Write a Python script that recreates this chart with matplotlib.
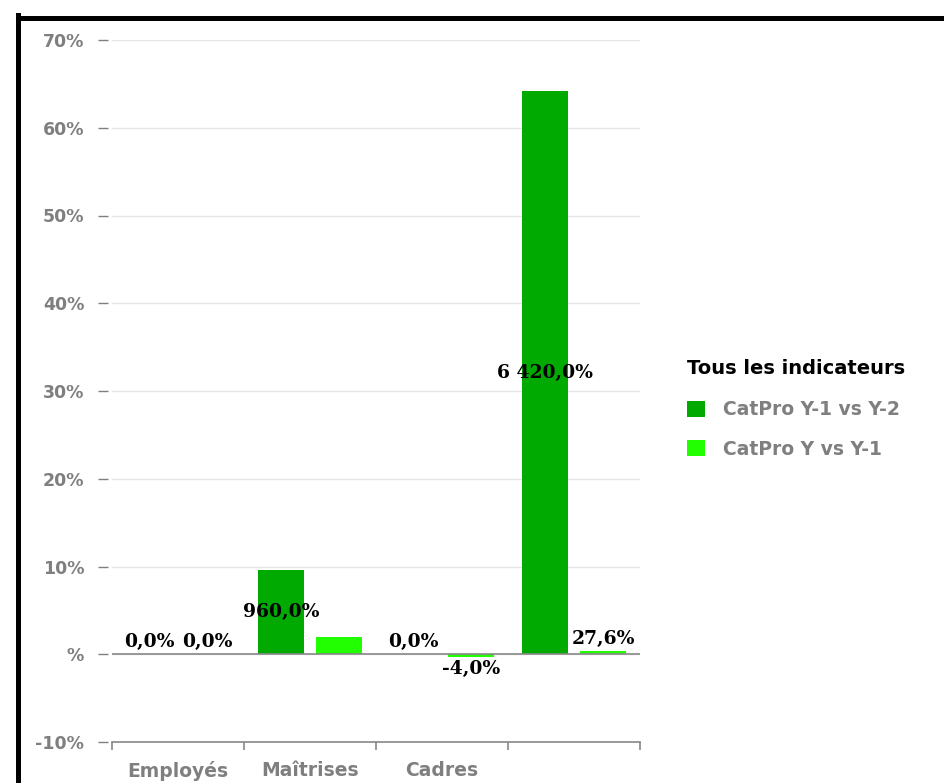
import matplotlib.pyplot as plt
import numpy as np
from matplotlib.lines import Line2D

# Data (bar heights in %, labels as shown on the chart)
categories = ["Employés", "Maîtrises", "Cadres", ""]
series_names = ["CatPro Y-1 vs Y-2", "CatPro Y vs Y-1"]
y1_vs_y2 = [0.0, 9.6, 0.0, 64.2]
y_vs_y1 = [0.0, 2.0, -0.3, 0.35]
labels_y1_vs_y2 = ["0,0%", "960,0%", "0,0%", "6 420,0%"]
labels_y_vs_y1 = ["0,0%", "", "-4,0%", "27,6%"]
ytick_values = [-10, 0, 10, 20, 30, 40, 50, 60, 70]
ytick_labels = ["-10%", "%", "10%", "20%", "30%", "40%", "50%", "60%", "70%"]

colors = ["#00AA00", "#22FF00"]
gray = "#7f7f7f"

fig = plt.figure(figsize=(9.44, 7.83), dpi=100)
ax = fig.add_axes([112 / 944, 41 / 783, 528 / 944, 702 / 783])

x = np.arange(len(categories))
w = 0.355
off = 0.22
b1 = ax.bar(x - off, y1_vs_y2, w, color=colors[0], label=series_names[0], zorder=3)
b2 = ax.bar(x + off, y_vs_y1, w, color=colors[1], label=series_names[1], zorder=3)

# value labels: centred in tall bars, outside for small ones
lab_font = dict(family="DejaVu Serif", weight="bold", size=13.5, color="black")
for bars, labs in [(b1, labels_y1_vs_y2), (b2, labels_y_vs_y1)]:
    for rect, lab in zip(bars, labs):
        if not lab:
            continue
        h = rect.get_height()
        cx = rect.get_x() + rect.get_width() / 2
        if abs(h) > 5:
            ax.text(cx, h / 2, lab, ha="center", va="center", zorder=4, **lab_font)
        elif h >= 0:
            ax.text(cx, h + 0.4, lab, ha="center", va="bottom", zorder=4, **lab_font)
        else:
            ax.text(cx, h - 0.4, lab, ha="center", va="top", zorder=4, **lab_font)

ax.set_xlim(-0.5, len(categories) - 0.5)
ax.set_ylim(-10, 70)

# grid and zero line
for v in ytick_values[1:]:
    ax.axhline(v, color="#e6e6e6", lw=1, zorder=1)
ax.axhline(0, color="#888888", lw=1.2, zorder=4)

ax.set_yticks(ytick_values)
ax.set_yticklabels(ytick_labels)
ax.set_xticks(x)
ax.set_xticklabels(categories)
ax.set_xticks(np.arange(len(categories) + 1) - 0.5, minor=True)

for s in ["top", "right", "left"]:
    ax.spines[s].set_visible(False)
ax.spines["left"].set_position(("outward", 3))
ax.spines["bottom"].set_color("#888888")
ax.spines["bottom"].set_linewidth(1.2)

ax.tick_params(axis="y", length=7, width=1, color=gray, pad=10,
               labelsize=12.5, labelcolor=gray)
ax.tick_params(axis="x", which="major", length=0, pad=14,
               labelsize=13.5, labelcolor=gray)
ax.tick_params(axis="x", which="minor", length=6, width=1.2, color="#888888")
for t in ax.get_xticklabels() + ax.get_yticklabels():
    t.set_fontweight("bold")

leg = ax.legend(loc="upper left", bbox_to_anchor=(670 / 944, 1 - 342 / 783),
                bbox_transform=fig.transFigure, frameon=False,
                title="Tous les indicateurs", fontsize=13.5,
                title_fontproperties={"weight": "bold", "size": 14},
                labelcolor=gray, handlelength=0.95, handleheight=0.95,
                handletextpad=1.0, labelspacing=1.1, alignment="left")
leg._legend_box.sep = 16
for t in leg.get_texts():
    t.set_fontweight("bold")

# black frame (top and left edges)
fig.add_artist(Line2D([17.5 / 944, 17.5 / 944], [0, 1 - 15 / 783], color="black",
                      lw=3.6, transform=fig.transFigure, solid_capstyle="projecting"))
fig.add_artist(Line2D([17.5 / 944, 1], [1 - 17.5 / 783, 1 - 17.5 / 783], color="black",
                      lw=3.6, transform=fig.transFigure))

fig.savefig("out.png", dpi=100)
